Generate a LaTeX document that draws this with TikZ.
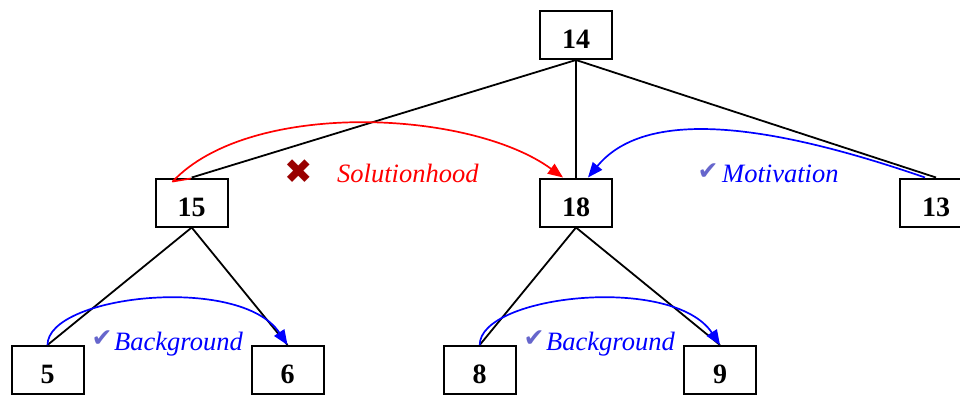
\documentclass[tikz,border=0pt]{standalone}
\usepackage{fontspec}
\setmainfont{Liberation Serif}
\newfontfamily\symfont{DejaVu Sans}
\usetikzlibrary{arrows.meta}
\definecolor{xred}{rgb}{0.6,0,0}
\definecolor{chk}{HTML}{6666CC}
\begin{document}
\begin{tikzpicture}[x=1pt,y=-1pt,
 box/.style={draw,line width=2pt,minimum width=72pt,minimum height=48pt,inner sep=0pt,
   font=\fontsize{28}{28}\selectfont\bfseries,text height=27pt,text depth=0pt},
 treeline/.style={line width=1.8pt},
 relarc/.style={line width=1.7pt,line join=round,-{Triangle[length=15pt,width=12pt]}},
 lbl/.style={anchor=base west,inner sep=0pt,font=\fontsize{26.5}{26.5}\selectfont\itshape},
 sym/.style={inner sep=0pt}
]
\clip (0,0) rectangle (960,394);
\fill[white] (0,0) rectangle (960,394);

\node[box] (n14) at (576,35) {14};
\node[box] (n15) at (191.7,202.5) {15};
\node[box] (n18) at (576,202.5) {18};
\node[box] (n13) at (936,202.5) {13};
\node[box] (n5) at (47.5,370) {5};
\node[box] (n6) at (287.5,370) {6};
\node[box] (n8) at (479.7,370) {8};
\node[box] (n9) at (720,370) {9};

\draw[treeline] (n14.south) -- (n15.north);
\draw[treeline] (n14.south) -- (n18.north);
\draw[treeline] (n14.south) -- (n13.north);
\draw[treeline] (n15.south) -- (n5.north);
\draw[treeline] (n15.south) -- (n6.north);
\draw[treeline] (n18.south) -- (n8.north);
\draw[treeline] (n18.south) -- (n9.north);

% relations
\draw[relarc,red] ([xshift=-1pt,yshift=-1pt]n15.north) -- ([xshift=-19pt,yshift=-4pt]n15.north)
  .. controls +(77,-82) and +(-93,-68) .. ([xshift=-13pt]n18.north);
\draw[relarc,blue] ([xshift=-11pt]n13.north)
  .. controls +(-145,-50) and +(60,-73) .. ([xshift=12pt]n18.north);
\draw[relarc,blue] (n5.north) .. controls +(0,-50) and +(-47,-71) .. (n6.north);
\draw[relarc,blue] (n8.north) .. controls +(0,-50) and +(-47,-71) .. (n9.north);

% labels
\node[sym,text=xred,font=\symfont\fontsize{34}{34}\selectfont] (xs) at (299,172) {✖};
\node[lbl,text=red] (ls) at (337,182) {Solutionhood};
\node[sym,text=chk,font=\symfont\fontsize{25}{25}\selectfont] (cm) at (708,172) {✔};
\node[lbl,text=blue] (lm) at (722,182) {Motivation};
\node[sym,text=chk,font=\symfont\fontsize{25}{25}\selectfont] (cb1) at (102,339) {✔};
\node[lbl,text=blue] (lb1) at (114,350) {Background};
\node[sym,text=chk,font=\symfont\fontsize{25}{25}\selectfont] (cb2) at (534,339) {✔};
\node[lbl,text=blue] (lb2) at (546,350) {Background};
\end{tikzpicture}
\end{document}
